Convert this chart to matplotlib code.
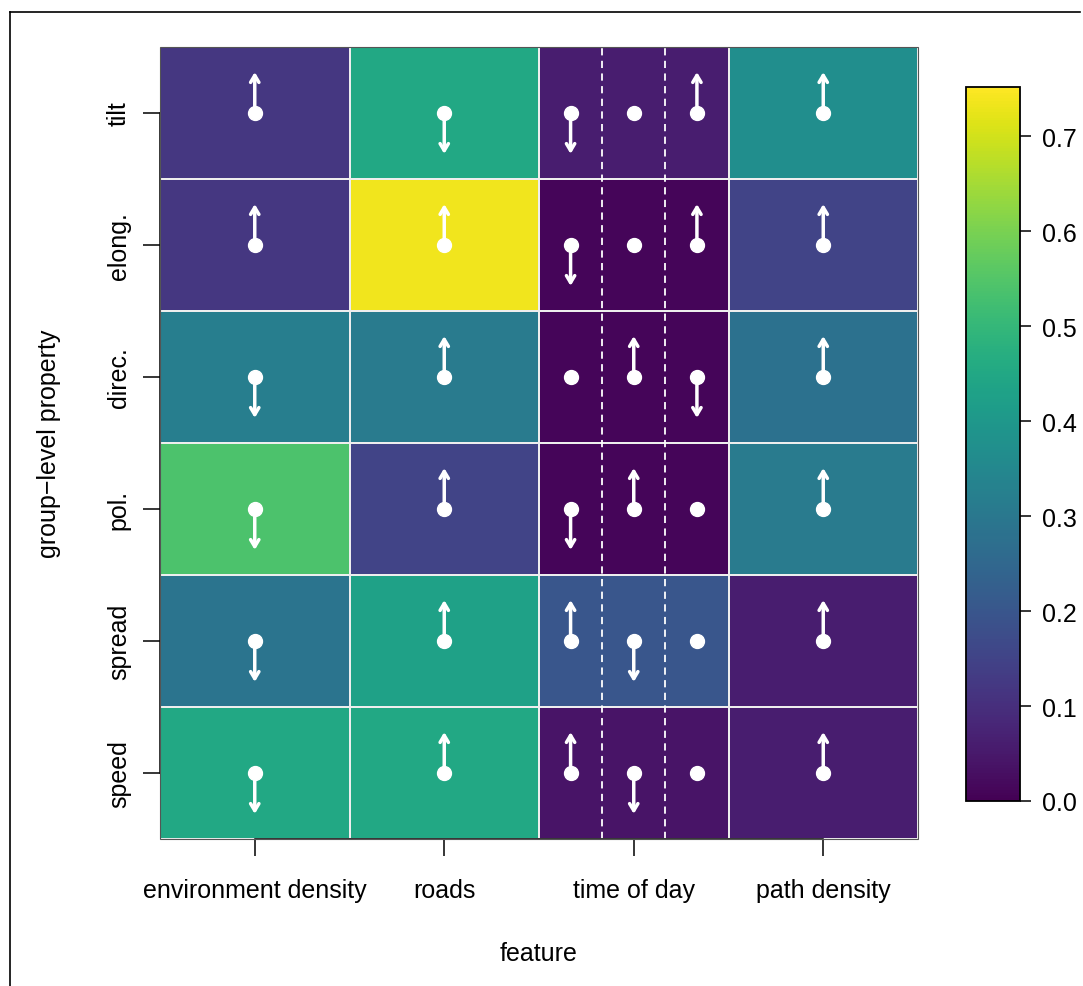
import numpy as np
import matplotlib
matplotlib.use("Agg")
import matplotlib.pyplot as plt
from matplotlib.patches import Rectangle
from matplotlib.lines import Line2D

plt.rcParams['font.family'] = ['Liberation Sans', 'DejaVu Sans']

features = ["environment density", "roads", "time of day", "path density"]
# bottom to top
properties = ["speed", "spread", "pol.", "direc.", "elong.", "tilt"]

# importance values per row (bottom to top), one per feature
values = np.array([
    [0.45, 0.45, 0.04, 0.06],   # speed
    [0.29, 0.43, 0.20, 0.06],   # spread
    [0.54, 0.15, 0.01, 0.31],   # pol.
    [0.32, 0.31, 0.01, 0.28],   # direc.
    [0.12, 0.735, 0.01, 0.15],  # elong.
    [0.12, 0.45, 0.06, 0.37],   # tilt
])
vmax = 0.752

# effect direction: 1 up, -1 down, 0 none
dir_env = [-1, -1, -1, -1, 1, 1]
dir_roads = [1, 1, 1, 1, 1, -1]
dir_path = [1, 1, 1, 1, 1, 1]
# time of day split into three sub-periods
dir_time = [
    [1, -1, 0],   # speed
    [1, -1, 0],   # spread
    [-1, 1, 0],   # pol.
    [0, 1, -1],   # direc.
    [-1, 0, 1],   # elong.
    [-1, 0, 1],   # tilt
]

W, H = 1083, 987
fig = plt.figure(figsize=(W / 100, H / 100), dpi=100)

ax = fig.add_axes([160 / W, 1 - 840 / H, (918 - 160) / W, (840 - 48) / H])
mesh = ax.pcolormesh(np.arange(5), np.arange(7), values, cmap="viridis",
                     vmin=0, vmax=vmax, edgecolor="#eeeeee", linewidth=1.1)
ax.set_xlim(0, 4)
ax.set_ylim(0, 6)

# dashed dividers inside time of day
for xd in (2 + 1 / 3, 2 + 2 / 3):
    ax.plot([xd, xd], [0, 6], color="white", lw=1.3, ls=(0, (4, 3)))

alen = 0.31


def marker(x, y, d):
    ax.plot(x, y, "o", color="white", ms=10, zorder=5)
    if d != 0:
        ax.annotate("", xy=(x, y + d * alen), xytext=(x, y),
                    arrowprops=dict(arrowstyle="->,head_length=0.5,head_width=0.3",
                                    color="white", lw=2.5, shrinkA=0, shrinkB=0),
                    zorder=6)


for i in range(6):
    yc = i + 0.5
    marker(0.5, yc, dir_env[i])
    marker(1.5, yc, dir_roads[i])
    marker(3.5, yc, dir_path[i])
    for k in range(3):
        marker(2 + (2 * k + 1) / 6, yc, dir_time[i][k])

# R-like axes
for s in ["top", "right"]:
    ax.spines[s].set_visible(False)
ax.spines["bottom"].set_bounds(0.5, 3.5)
ax.spines["left"].set_bounds(0.5, 5.5)
for s in ["bottom", "left"]:
    ax.spines[s].set_color("black")
    ax.spines[s].set_linewidth(1.1)
ax.add_patch(Rectangle((0, 0), 4, 6, fill=False, edgecolor="#555555", lw=0.8,
                       zorder=4, clip_on=False))

ax.set_xticks(np.arange(4) + 0.5)
ax.set_xticklabels(features, fontsize=18)
ax.set_yticks(np.arange(6) + 0.5)
ax.set_yticklabels(properties, fontsize=18, rotation=90, va="center")
ax.tick_params(axis="both", length=12, width=1.1, direction="out")
ax.tick_params(axis="x", pad=16)
ax.tick_params(axis="y", pad=9)
ax.set_xlabel("feature", fontsize=18, labelpad=28)
ax.set_ylabel("group\u2212level property", fontsize=18, labelpad=33)

# colour bar
cax = fig.add_axes([966 / W, 1 - 802 / H, (1020 - 966) / W, (802 - 88) / H])
cb = fig.colorbar(mesh, cax=cax, ticks=[0.0, 0.1, 0.2, 0.3, 0.4, 0.5, 0.6, 0.7])
cb.ax.set_yticklabels([f"{t:.1f}" for t in [0.0, 0.1, 0.2, 0.3, 0.4, 0.5, 0.6, 0.7]])
cb.outline.set_linewidth(1.3)
cb.outline.set_edgecolor("black")
cax.tick_params(labelsize=18, length=8, width=1.1, pad=8)

# figure frame (top and left)
fig.add_artist(Line2D([10 / W, 1080 / W], [1 - 13 / H, 1 - 13 / H], color="black", lw=1.2))
fig.add_artist(Line2D([10 / W, 10 / W], [1 - 13 / H, 0], color="black", lw=1.2))

fig.savefig("out.png", dpi=100)
